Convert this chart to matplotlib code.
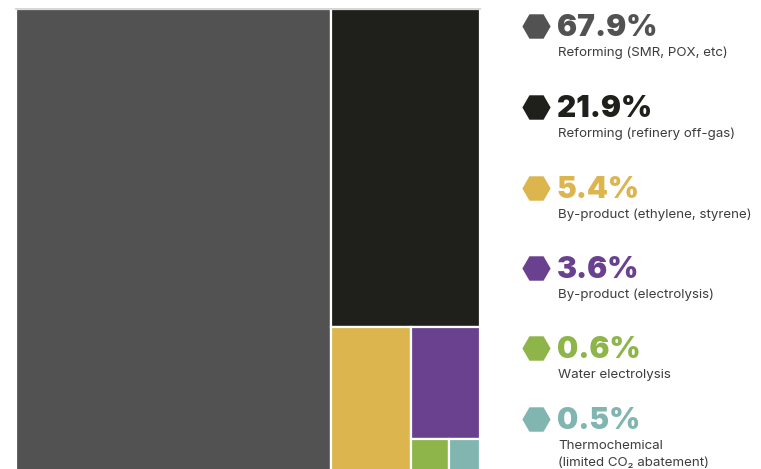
"""Hydrogen production routes shown as a treemap with a side legend."""

import matplotlib.pyplot as plt
from matplotlib.patches import Rectangle

shares = [67.9, 21.9, 5.4, 3.6, 0.6, 0.5]
routes = [
    "Reforming (SMR, POX, etc)",
    "Reforming (refinery off-gas)",
    "By-product (ethylene, styrene)",
    "By-product (electrolysis)",
    "Water electrolysis",
    "Thermochemical\n(limited CO\u2082 abatement)",
]
colors = ["#525252", "#1f201b", "#dcb54e", "#69418e", "#8db54a", "#80b5b0"]

W, H = 761, 469
FONT = ["Inter", "DejaVu Sans"]


def alternating_layout(values, x, y, w, h):
    """Peel off one tile at a time, switching between column and row cuts."""
    rects = []
    remaining = sum(values)
    vertical = True
    for i, v in enumerate(values):
        if i == len(values) - 1:
            rects.append((x, y, w, h))
            break
        frac = v / remaining
        if vertical:
            rects.append((x, y, w * frac, h))
            x, w = x + w * frac, w * (1 - frac)
        else:
            rects.append((x, y + h * (1 - frac), w, h * frac))
            h = h * (1 - frac)
        remaining -= v
        vertical = not vertical
    return rects


fig = plt.figure(figsize=(W / 100, H / 100), dpi=100)
fig.patch.set_facecolor("white")

# treemap area in pixel space: x 16..480, y 9..473 (bottom runs past the frame)
left, top, tw, th = 16, 9, 464, 464
ax = fig.add_axes([left / W, (H - top - th) / H, tw / W, th / H])
ax.set_xlim(0, 1)
ax.set_ylim(0, 1)
ax.axis("off")

for (rx, ry, rw, rh), c in zip(alternating_layout(shares, 0, 0, 1, 1), colors):
    ax.add_patch(Rectangle((rx, ry), rw, rh, facecolor=c, edgecolor="white",
                           linewidth=1.6))
ax.plot([0, 1], [1, 1], color="#cfcfcf", lw=1.2, clip_on=False)

# legend column, row centres in pixels from the top
row_y = [26, 107, 188, 268, 348, 419]
for yc, s, label, c in zip(row_y, shares, routes, colors):
    fig.add_artist(plt.Line2D([536 / W], [1 - yc / H], marker="H",
                              markersize=18, color=c, markeredgecolor=c,
                              markeredgewidth=2, transform=fig.transFigure))
    fig.text(557 / W, 1 - (yc + 2) / H, f"{s}%", ha="left", va="center",
             fontsize=21.5, fontweight="black", color=c, family=FONT)
    for k, line in enumerate(label.split("\n")):
        fig.text(558 / W, 1 - (yc + 27 + 17 * k) / H, line, ha="left",
                 va="center", fontsize=9.6, color="#3d3d3d", family=FONT)

fig.savefig("out.png", dpi=100)
